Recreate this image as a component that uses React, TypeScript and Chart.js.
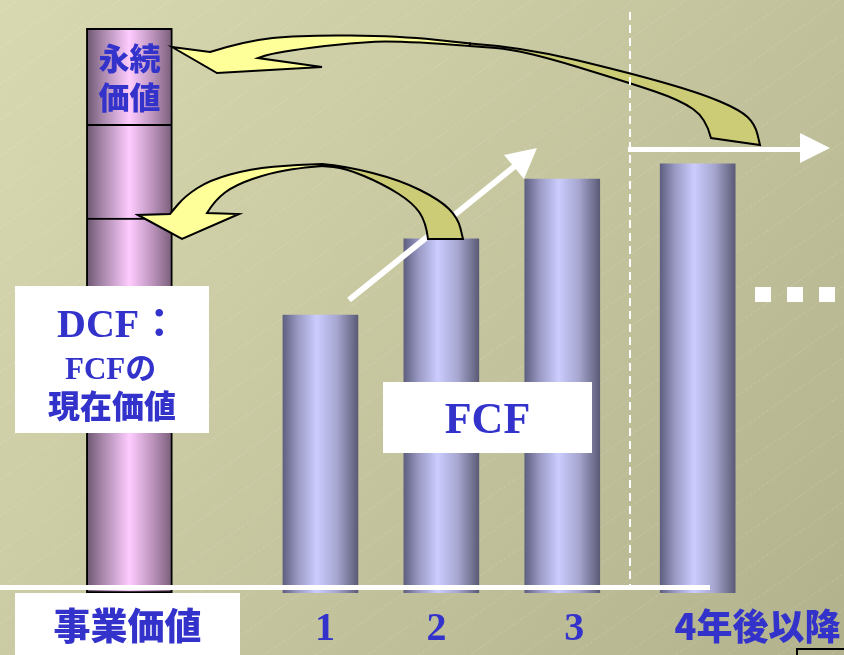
import React, { useEffect, useRef } from "react";
import { Chart, registerables } from "chart.js";

Chart.register(...registerables);

// ---- data ----
const categories = ["事業価値", "1", "2", "3", "4年後以降"];
const categoryPositions = [-0.58, 1, 2, 3, 4.12];
const pillarLabels = ["FCFの現在価値", "中間", "永続価値"];
const pillarSegments = [66.4, 16.6, 17.0];
const fcfValues = [49.2, 62.7, 73.3, 76.0];
const labelPositions = [-0.596, 1.038, 1.96, 3.1, 4.614];

const BLUE = "#3333cc";
const SANS = "'Noto Sans CJK JP', 'Noto Sans', sans-serif";
const SERIF = "'Liberation Serif', 'Noto Sans CJK JP', serif";

type Stop = [number, string];
const pillarStops: Stop[] = [
  [0, "#6b5670"],
  [0.18, "#a585a8"],
  [0.5, "#ffccff"],
  [0.78, "#b991b9"],
  [1, "#785d78"],
];
const barStops: Stop[] = [
  [0, "#5e5f80"],
  [0.2, "#9a9ac4"],
  [0.45, "#ccccff"],
  [0.72, "#a6a6d0"],
  [1, "#5b5b77"],
];

function makeGrad(stops: Stop[], width: number) {
  return (c: any) => {
    const chart = c.chart;
    const xs = chart.scales && chart.scales.x;
    if (!xs || !c.parsed || !chart.chartArea) return stops[2][1];
    const cx = xs.getPixelForValue(c.parsed.x);
    const g = chart.ctx.createLinearGradient(cx - width / 2, 0, cx + width / 2, 0);
    stops.forEach(([o, col]) => g.addColorStop(o, col));
    return g;
  };
}

type P = [number, number];
function smooth(ctx: CanvasRenderingContext2D, pts: P[], move: boolean) {
  if (move) ctx.moveTo(pts[0][0], pts[0][1]);
  else ctx.lineTo(pts[0][0], pts[0][1]);
  for (let i = 1; i < pts.length - 1; i++) {
    const mx = (pts[i][0] + pts[i + 1][0]) / 2;
    const my = (pts[i][1] + pts[i + 1][1]) / 2;
    ctx.quadraticCurveTo(pts[i][0], pts[i][1], mx, my);
  }
  const last = pts[pts.length - 1];
  ctx.lineTo(last[0], last[1]);
}

const LIGHT = "#ffff99";
const DARK = "#cccc77";

function fillStroke(ctx: CanvasRenderingContext2D, fill: string) {
  ctx.fillStyle = fill;
  ctx.fill();
  ctx.strokeStyle = "#000";
  ctx.lineWidth = 2;
  ctx.lineJoin = "miter";
  ctx.stroke();
}

const decorPlugin = {
  id: "decor",
  beforeDraw(chart: any) {
    const { ctx, width, height } = chart;
    ctx.save();
    const g = ctx.createLinearGradient(0, 0, width, height);
    g.addColorStop(0, "#d9d9b1");
    g.addColorStop(1, "#b2b28d");
    ctx.fillStyle = g;
    ctx.fillRect(0, 0, width, height);
    ctx.strokeStyle = "rgba(255,255,255,0.16)";
    ctx.lineWidth = 1;
    ctx.setLineDash([3, 2]);
    for (let c = 12; c < height + width * 0.7; c += 36) {
      ctx.beginPath();
      ctx.moveTo(0, c);
      ctx.lineTo(width, c - width * 0.7);
      ctx.stroke();
    }
    ctx.setLineDash([]);
    ctx.restore();
  },
  afterDatasetsDraw(chart: any) {
    const { ctx } = chart;
    const xs = chart.scales.x;
    const ys = chart.scales.y;
    const base = ys.getPixelForValue(0);
    ctx.save();

    // white base line
    ctx.fillStyle = "#ffffff";
    ctx.fillRect(0, base - 8, 710, 5);

    // white diagonal arrow
    ctx.strokeStyle = "#ffffff";
    ctx.lineWidth = 6;
    ctx.lineCap = "butt";
    ctx.beginPath();
    ctx.moveTo(349, 300);
    ctx.lineTo(515, 166);
    ctx.stroke();
    ctx.beginPath();
    ctx.moveTo(537, 148);
    ctx.lineTo(504, 155);
    ctx.lineTo(524, 179);
    ctx.closePath();
    ctx.fillStyle = "#ffffff";
    ctx.fill();

    // white horizontal arrow
    ctx.lineWidth = 5;
    ctx.beginPath();
    ctx.moveTo(628, 149.5);
    ctx.lineTo(802, 149.5);
    ctx.stroke();
    ctx.beginPath();
    ctx.moveTo(830, 148);
    ctx.lineTo(800, 133);
    ctx.lineTo(800, 163);
    ctx.closePath();
    ctx.fill();

    // yellow curved arrow 1 (dark part)
    ctx.beginPath();
    smooth(ctx, [[470, 43.5], [522, 47], [630, 73], [700, 93], [740, 110], [755, 124], [760, 145]], true);
    ctx.lineTo(711, 138);
    smooth(ctx, [[711, 138], [706, 118], [680, 100], [630, 83], [522, 50], [470, 46]], false);
    ctx.closePath();
    fillStroke(ctx, DARK);
    // light part
    ctx.beginPath();
    ctx.moveTo(172, 47);
    ctx.lineTo(210, 52);
    smooth(ctx, [[210, 52], [245, 41], [300, 35], [400, 36], [470, 43.5]], false);
    ctx.lineTo(470, 46);
    smooth(ctx, [[470, 46], [400, 40.5], [350, 43], [300, 49], [270, 54], [258, 58]], false);
    ctx.lineTo(322, 67);
    ctx.lineTo(217, 73);
    ctx.closePath();
    fillStroke(ctx, LIGHT);

    // yellow curved arrow 2 (dark part)
    ctx.beginPath();
    smooth(ctx, [[322, 164], [345, 166], [400, 180], [440, 200], [458, 218], [463, 239]], true);
    ctx.lineTo(428, 239);
    smooth(ctx, [[428, 239], [426, 222], [413, 203], [383, 184], [345, 168], [322, 166]], false);
    ctx.closePath();
    fillStroke(ctx, DARK);
    // light part
    ctx.beginPath();
    ctx.moveTo(138, 215);
    ctx.lineTo(182, 239);
    ctx.lineTo(239, 214);
    ctx.lineTo(207, 213);
    smooth(ctx, [[207, 213], [215, 200], [235, 185], [270, 173], [300, 168], [322, 166]], false);
    ctx.lineTo(322, 164);
    smooth(ctx, [[322, 164], [297, 164.5], [250, 169], [210, 180], [185, 196], [170, 214]], false);
    ctx.closePath();
    fillStroke(ctx, LIGHT);

    // dashed vertical separator
    ctx.strokeStyle = "#ffffff";
    ctx.lineWidth = 2;
    ctx.setLineDash([8, 5]);
    ctx.beginPath();
    ctx.moveTo(630, 12);
    ctx.lineTo(630, base - 8);
    ctx.stroke();
    ctx.setLineDash([]);

    // three squares
    ctx.fillStyle = "#ffffff";
    [755, 787, 819].forEach((x) => ctx.fillRect(x, 287, 16, 15));

    // label boxes
    ctx.fillRect(15, 286, 194, 147);
    ctx.fillRect(383, 382, 209, 71);
    ctx.fillRect(15, base, 225, 655 - base);

    ctx.fillStyle = BLUE;
    ctx.textBaseline = "alphabetic";
    ctx.textAlign = "left";
    ctx.font = `bold 40px ${SERIF}`;
    ctx.fillText("DCF：", 57, 337);
    ctx.font = `bold 31px ${SERIF}`;
    ctx.fillText("FCFの", 65, 379);
    ctx.textBaseline = "middle";
    ctx.font = `900 32px ${SANS}`;
    ctx.fillText("現在価値", 48, 406);

    ctx.textAlign = "center";
    ctx.textBaseline = "alphabetic";
    ctx.font = `bold 44px ${SERIF}`;
    ctx.fillText("FCF", 487.5, 433);

    // pillar top label
    ctx.textBaseline = "middle";
    ctx.font = `900 31px ${SANS}`;
    const px = xs.getPixelForValue(categoryPositions[0]);
    ctx.fillText("永続", px, 58);
    ctx.fillText("価値", px, 97);

    // category labels
    categories.forEach((lab, i) => {
      const x = xs.getPixelForValue(labelPositions[i]);
      if (/^\d+$/.test(lab)) {
        ctx.textBaseline = "alphabetic";
        ctx.font = `bold 40px ${SERIF}`;
        ctx.fillText(lab, x, 640);
      } else {
        ctx.textBaseline = "middle";
        ctx.font = i === 0 ? `900 37px ${SANS}` : `900 36px ${SANS}`;
        ctx.fillText(lab, x, 626);
      }
    });

    // bottom-right corner box
    ctx.strokeStyle = "#000";
    ctx.lineWidth = 2;
    ctx.beginPath();
    ctx.moveTo(797, 660);
    ctx.lineTo(797, 649);
    ctx.lineTo(850, 649);
    ctx.stroke();

    ctx.restore();
  },
};

export default function App() {
  const ref = useRef<HTMLCanvasElement>(null);
  useEffect(() => {
    const pillarFill = makeGrad(pillarStops, 86);
    const barFill = makeGrad(barStops, 75);
    const pillarDatasets = pillarSegments.map((v, i) => ({
      label: pillarLabels[i],
      data: [{ x: categoryPositions[0], y: v }],
      barThickness: 86,
      backgroundColor: pillarFill,
      borderColor: "#000000",
      borderWidth: { left: 2, right: 2, top: 2, bottom: i === 0 ? 2 : 0 },
      borderSkipped: false,
      stack: "s",
    }));
    const chart = new Chart(ref.current as HTMLCanvasElement, {
      type: "bar",
      data: {
        datasets: [
          ...pillarDatasets,
          {
            label: "FCF",
            data: fcfValues.map((v, i) => ({ x: categoryPositions[i + 1], y: v })),
            barThickness: 75,
            backgroundColor: barFill,
            borderWidth: 0,
            stack: "s",
          },
        ] as any,
      },
      options: {
        animation: false,
        responsive: false,
        maintainAspectRatio: false,
        layout: { padding: { left: 0, right: 0, top: 0, bottom: 62 } },
        plugins: { legend: { display: false }, tooltip: { enabled: false } },
        scales: {
          x: { type: "linear", min: -1.65, max: 5.33, offset: false, display: false },
          y: { min: 0, max: 105, stacked: true, display: false },
        },
      },
      plugins: [decorPlugin],
    } as any);
    return () => chart.destroy();
  }, []);
  return (
    <div style={{ position: "absolute", left: 0, top: 0, width: 844, height: 655 }}>
      <canvas ref={ref} width={844} height={655} style={{ display: "block" }} />
    </div>
  );
}
